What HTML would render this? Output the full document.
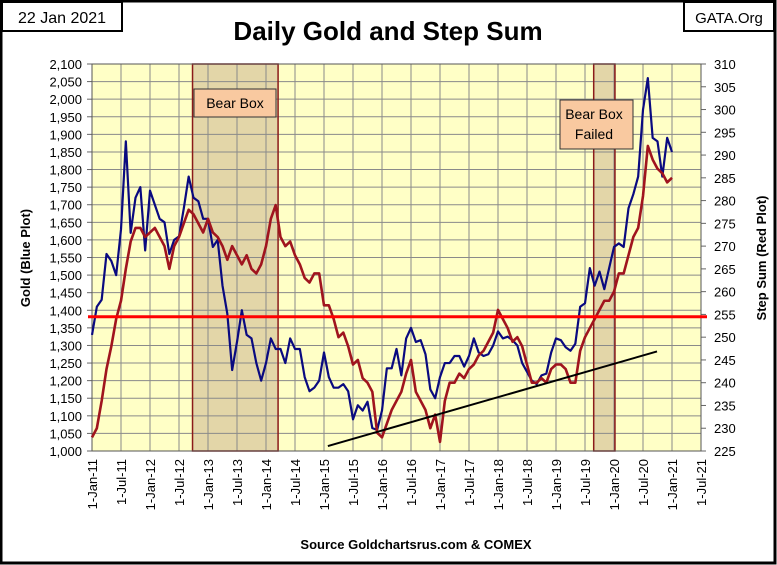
<!DOCTYPE html>
<html><head><meta charset="utf-8"><style>
html,body{margin:0;padding:0;background:#fff}
svg{display:block;font-family:"Liberation Sans",sans-serif}
</style></head><body>
<svg id="c" width="777" height="565" viewBox="0 0 777 565" xmlns="http://www.w3.org/2000/svg">
<rect x="1" y="1" width="774" height="562" fill="#fff" stroke="#000" stroke-width="3"/>
<rect x="2" y="2" width="120" height="29" fill="#fff" stroke="#000" stroke-width="2"/>
<text x="62" y="23" font-size="16" text-anchor="middle">22 Jan 2021</text>
<rect x="684" y="2" width="90" height="29" fill="#fff" stroke="#000" stroke-width="2"/>
<text x="729" y="23" font-size="15" text-anchor="middle">GATA.Org</text>
<text x="388" y="40" font-size="26" font-weight="bold" text-anchor="middle">Daily Gold and Step Sum</text>
<text x="416" y="549" font-size="13" font-weight="bold" text-anchor="middle">Source Goldchartsrus.com &amp; COMEX</text>
<text transform="translate(30,258) rotate(-90)" font-size="13" font-weight="bold" text-anchor="middle">Gold   (Blue Plot)</text>
<text transform="translate(766,258) rotate(-90)" font-size="13" font-weight="bold" text-anchor="middle">Step Sum   (Red Plot)</text>
<g id="plot"></g>
</svg>
<script>
const goldValues=[1330,1410,1430,1560,1540,1500,1630,1880,1620,1720,1750,1570,
1740,1700,1660,1650,1560,1600,1610,1690,1780,1720,1710,1660,
1660,1580,1600,1470,1390,1230,1310,1400,1330,1320,1250,1200,
1250,1320,1290,1290,1250,1320,1290,1290,1210,1170,1180,1200,
1280,1210,1180,1180,1190,1170,1090,1130,1115,1140,1065,1060,
1115,1235,1235,1290,1215,1320,1350,1310,1315,1275,1175,1150,
1210,1250,1250,1270,1270,1240,1270,1320,1280,1270,1275,1300,
1340,1320,1325,1315,1300,1250,1225,1200,1190,1215,1220,1280,
1320,1315,1295,1285,1305,1410,1420,1520,1470,1510,1460,1520,
1580,1590,1580,1690,1730,1780,1970,2060,1890,1880,1780,1890,1850];
const stepValues=[228,230,236,243,248,254,258,265,271,274,274,272,
273,274,272,270,265,270,272,275,278,277,275,273,
276,273,272,270,267,270,268,266,268,265,264,266,
270,276,279,272,270,271,268,266,263,262,264,264,
257,257,254,250,251,248,244,245,241,240,238,229,
228,231,234,236,238,242,245,238,236,234,230,233,
227,236,240,240,242,241,243,244,246,247,249,251,
256,254,252,249,250,248,244,240,240,241,240,243,
244,244,243,240,240,247,250,252,254,256,258,258,
260,264,264,268,272,274,281,292,289,287,286,284,285];
const xTickLabels=["1-Jan-11","1-Jul-11","1-Jan-12","1-Jul-12","1-Jan-13","1-Jul-13","1-Jan-14","1-Jul-14","1-Jan-15","1-Jul-15","1-Jan-16","1-Jul-16","1-Jan-17","1-Jul-17","1-Jan-18","1-Jul-18","1-Jan-19","1-Jul-19","1-Jan-20","1-Jul-20","1-Jan-21","1-Jul-21"];
const goldTicks=[1000,1050,1100,1150,1200,1250,1300,1350,1400,1450,1500,1550,1600,1650,1700,1750,1800,1850,1900,1950,2000,2050,2100];
const stepTicks=[225,230,235,240,245,250,255,260,265,270,275,280,285,290,295,300,305,310];
const bearBoxes=[[20.8,38.5,"Bear Box"],[103.8,108.2,"Bear Box Failed"]];
const trendMonths=[48.8,116.9];
const trendGold=[1014,1283];
const refStep=254.5;

const L=92,R=701,T=64,B=451;
const xs=m=>L+m*(R-L)/126;
const yg=v=>B-(v-1000)*(B-T)/1100;
const ys=v=>B-(v-225)*(B-T)/85;
const NS="http://www.w3.org/2000/svg";
const g=document.getElementById('plot');
function mk(tag,attrs,parent){const e=document.createElementNS(NS,tag);for(const k in attrs)e.setAttribute(k,attrs[k]);(parent||g).appendChild(e);return e;}

let e=mk('rect',{x:L,y:T,width:R-L,height:B-T,fill:'#FFFFC6'});


bearBoxes.forEach(b=>{
  const r=mk('rect',{x:xs(b[0]),y:T,width:xs(b[1])-xs(b[0]),height:B-T,fill:'#E3D6A8'});
  
  
});
goldTicks.forEach(v=>{
  const l=mk('line',{x1:L,x2:R,y1:yg(v),y2:yg(v),stroke:'#8a8a8a','stroke-width':1});
  
  
  const t=mk('text',{x:L-10,y:yg(v)+5,'font-size':13,'text-anchor':'end'});
  t.textContent=v.toLocaleString('en-US');
  
  
  mk('line',{x1:L-5,x2:L,y1:yg(v),y2:yg(v),stroke:'#666'});
});
stepTicks.forEach(v=>{
  const t=mk('text',{x:R+13,y:ys(v)+5,'font-size':13});
  t.textContent=v;
  
  
  mk('line',{x1:R,x2:R+5,y1:ys(v),y2:ys(v),stroke:'#666'});
});
xTickLabels.forEach((s,i)=>{
  const x=xs(i*6);
  const l=mk('line',{x1:x,x2:x,y1:T,y2:B,stroke:'#8a8a8a','stroke-width':1});
  
  
  const t=mk('text',{transform:`translate(${x+5},459) rotate(-90)`,'font-size':13,'text-anchor':'end'});
  t.textContent=s;
  
  
});
bearBoxes.forEach(b=>{
  const r=mk('rect',{x:xs(b[0]),y:T,width:xs(b[1])-xs(b[0]),height:B-T,fill:'none',stroke:'#8B1A1A','stroke-width':1.5});
  
  
});
e=mk('rect',{x:L,y:T,width:R-L,height:B-T,fill:'none',stroke:'#555','stroke-width':1});
const pts=(arr,f)=>arr.map((v,i)=>xs(i+0.7*(i>0?1:0)-(i>0?0.7:0))+','+f(v)).join(' ');
e=mk('polyline',{points:pts(goldValues,yg),fill:'none',stroke:'#0A0A80','stroke-width':2.2,'stroke-linejoin':'round'});


e=mk('polyline',{points:pts(stepValues,ys),fill:'none',stroke:'#A0141E','stroke-width':2.6,'stroke-linejoin':'round'});


e=mk('line',{x1:xs(trendMonths[0]),y1:yg(trendGold[0]),x2:xs(trendMonths[1]),y2:yg(trendGold[1]),stroke:'#000','stroke-width':2});


e=mk('line',{x1:L-4,x2:R+6,y1:ys(refStep),y2:ys(refStep),stroke:'#FF0000','stroke-width':3});


// labels
e=mk('rect',{x:194,y:89,width:82,height:28,fill:'#F9C9A0',stroke:'#333','stroke-width':1});


e=mk('text',{x:235,y:108,'font-size':14,'text-anchor':'middle'});e.textContent='Bear Box';


e=mk('rect',{x:560,y:100,width:73,height:49,fill:'#F9C9A0',stroke:'#333','stroke-width':1});


e=mk('text',{x:594,y:119,'font-size':14,'text-anchor':'middle'});e.textContent='Bear Box';


e=mk('text',{x:594,y:139,'font-size':14,'text-anchor':'middle'});e.textContent='Failed';


</script>
</body></html>
